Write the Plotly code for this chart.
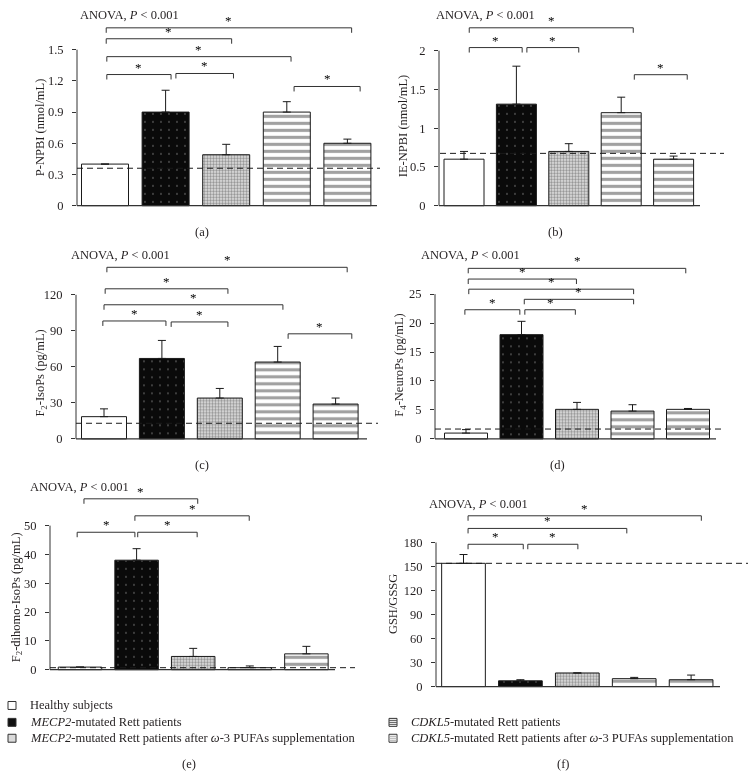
import plotly.graph_objects as go

W, H = 755, 783
FONT = "Liberation Serif"
INK = "#231f20"
LINE = "#333333"

# ---------------- data ----------------
groups = [
    "Healthy subjects",
    "<i>MECP2</i>-mutated Rett patients",
    "<i>MECP2</i>-mutated Rett patients after <i>ω</i>-3 PUFAs supplementation",
    "<i>CDKL5</i>-mutated Rett patients",
    "<i>CDKL5</i>-mutated Rett patients after <i>ω</i>-3 PUFAs supplementation",
]
positions = [0, 1, 2, 3, 4]

pnpbi_mean = [0.40, 0.90, 0.49, 0.90, 0.60]
pnpbi_err = [None, 0.21, 0.10, 0.10, 0.04]
pnpbi_ref = 0.36

ienpbi_mean = [0.60, 1.31, 0.70, 1.20, 0.60]
ienpbi_err = [0.10, 0.49, 0.10, 0.20, 0.04]
ienpbi_ref = 0.675

f2isops_mean = [18.5, 67.0, 34.0, 64.0, 29.0]
f2isops_err = [6.5, 15.0, 8.0, 13.0, 5.0]
f2isops_ref = 13.0

f4neurops_mean = [1.0, 18.0, 5.1, 4.8, 5.1]
f4neurops_err = [0.6, 2.3, 1.2, 1.1, 0.15]
f4neurops_ref = 1.7

f2dihomo_mean = [0.9, 38.0, 4.6, 0.7, 5.5]
f2dihomo_err = [None, 4.0, 2.8, 0.6, 2.6]
f2dihomo_ref = 0.7

gsh_mean = [154.0, 7.2, 17.0, 9.9, 8.6]
gsh_err = [11.0, 1.4, None, 1.6, 5.8]
gsh_ref = 154.0

# tick labels
ticks_a = [0, 0.3, 0.6, 0.9, 1.2, 1.5]
ticktext_a = ["0", "0.3", "0.6", "0.9", "1.2", "1.5"]
ticks_b = [0, 0.5, 1, 1.5, 2]
ticktext_b = ["0", "0.5", "1", "1.5", "2"]
ticks_c = [0, 30, 60, 90, 120]
ticks_d = [0, 5, 10, 15, 20, 25]
ticks_e = [0, 10, 20, 30, 40, 50]
ticks_f = [0, 30, 60, 90, 120, 150, 180]

# significance brackets: (left, right, height)
brackets_a = [(0.02, 4.07, 1.71), (0.02, 2.09, 1.605), (0.03, 3.07, 1.433),
              (0.03, 1.09, 1.261), (1.17, 2.12, 1.271), (3.12, 4.21, 1.146)]
brackets_b = [(0.10, 3.23, 2.295), (0.10, 1.11, 2.04), (1.20, 2.19, 2.04),
              (3.25, 4.26, 1.69)]
brackets_c = [(0.05, 4.20, 142.9), (0.02, 2.14, 125.0), (0.00, 3.09, 111.7),
              (-0.02, 1.07, 98.2), (1.16, 2.14, 97.4), (3.18, 4.28, 87.5)]
brackets_d = [(0.04, 3.96, 29.45), (0.04, 1.99, 27.6), (0.05, 3.02, 25.85),
              (1.05, 3.02, 24.1), (-0.02, 0.97, 22.3), (1.06, 1.97, 22.3)]
brackets_e = [(0.07, 2.08, 59.3), (0.97, 2.99, 53.4), (-0.05, 0.97, 47.7),
              (1.02, 2.07, 47.7)]
brackets_f = [(0.08, 4.18, 213.4), (0.08, 2.87, 197.6), (0.08, 1.05, 177.8),
              (1.13, 2.01, 177.8)]

anova_text = "ANOVA, <i>P</i> &lt; 0.001"

# ---------------- styles ----------------
bar_colors = ["#ffffff", "#0a0a0a", "#e4e4e4", "#ffffff", "#ffffff"]
pat_shapes = ["", ".", ".", "-", "-"]
pat_fg = ["#ffffff", "#ffffff", "#b8b8b8", "#6b6b6b", "#c2c2c2"]
pat_bg = ["#ffffff", "#0a0a0a", "#f0f0f0", "#ffffff", "#ffffff"]
pat_size = [8, 8, 3, 7, 7]
pat_sol = [0.3, 0.03, 0.5, 0.45, 0.45]

fig = go.Figure()
shapes = []
annotations = []
layout_axes = {}


def px_x(p):
    return p / W


def px_y(p):
    return 1 - p / H


def add_panel(k, mean, err, ref, tickvals, ticktext, title, brackets, g,
              anova_xy, label, label_xy, title_xy):
    xa = "x" if k == 1 else f"x{k}"
    ya = "y" if k == 1 else f"y{k}"
    xkey = "xaxis" if k == 1 else f"xaxis{k}"
    ykey = "yaxis" if k == 1 else f"yaxis{k}"
    right = max(g["xend"], g["dash1"])
    lo = (g["axis"] - g["c0"]) / g["step"]
    hi = (right - g["c0"]) / g["step"]
    tmax = tickvals[-1]
    ppu = (g["y0"] - g["ytop"]) / tmax
    ylo = -2 / ppu
    yhi = (g["y0"] - g["top"]) / ppu

    arraym = [0 if e is not None else None for e in err]
    fig.add_trace(go.Bar(
        x=positions, y=mean, width=g["bw"] / g["step"],
        xaxis=xa, yaxis=ya,
        marker=dict(color=bar_colors,
                    line=dict(color="#1a1a1a", width=1),
                    pattern=dict(shape=pat_shapes, fgcolor=pat_fg, bgcolor=pat_bg,
                                 size=pat_size, solidity=pat_sol, fillmode="overlay")),
        error_y=dict(type="data", symmetric=False, array=err, arrayminus=arraym,
                     color="#1a1a1a", thickness=1, width=4),
        showlegend=False, hoverinfo="skip",
    ))
    layout_axes[xkey] = dict(domain=[px_x(g["axis"]), px_x(right)], range=[lo, hi],
                             anchor=ya, showticklabels=False, ticks="",
                             showgrid=False, zeroline=False, showline=False,
                             fixedrange=True)
    layout_axes[ykey] = dict(domain=[px_y(g["y0"] + 2), px_y(g["top"])], range=[ylo, yhi],
                             anchor=xa, tickvals=tickvals, ticktext=ticktext,
                             ticks="outside", ticklen=4, tickwidth=1, tickcolor=LINE,
                             ticklabelstandoff=6,
                             tickfont=dict(family=FONT, size=12.5, color=INK),
                             showgrid=False, zeroline=False, showline=False,
                             fixedrange=True)
    # y axis line
    shapes.append(dict(type="line", xref="paper", yref=ya,
                       x0=px_x(g["axis"]), x1=px_x(g["axis"]), y0=0, y1=tmax,
                       line=dict(color=LINE, width=1)))
    # baseline
    shapes.append(dict(type="line", xref=xa, yref=ya, x0=lo,
                       x1=(g["xend"] - g["c0"]) / g["step"], y0=0, y1=0,
                       line=dict(color=LINE, width=1.2)))
    # reference dashed line
    shapes.append(dict(type="line", xref=xa, yref=ya,
                       x0=(g["dash0"] - g["c0"]) / g["step"], x1=hi, y0=ref, y1=ref,
                       line=dict(color="#1a1a1a", width=1, dash="6px,4px")))
    # brackets
    d = 5 / ppu
    for (xl, xr, yb) in brackets:
        shapes.append(dict(type="path", xref=xa, yref=ya,
                           path=f"M {xl},{yb - d} L {xl},{yb} L {xr},{yb} L {xr},{yb - d}",
                           line=dict(color=LINE, width=1)))
        annotations.append(dict(xref=xa, yref=ya, x=(xl + xr) / 2, y=yb,
                                text="*", showarrow=False, yanchor="bottom",
                                yshift=-2,
                                font=dict(family=FONT, size=13, color="#000000")))
    # ANOVA
    annotations.append(dict(xref="paper", yref="paper", x=px_x(anova_xy[0]),
                            y=px_y(anova_xy[1]), text=anova_text, showarrow=False,
                            xanchor="left", yanchor="middle",
                            font=dict(family=FONT, size=12.5, color=INK)))
    # panel label
    annotations.append(dict(xref="paper", yref="paper", x=px_x(label_xy[0]),
                            y=px_y(label_xy[1]), text=label, showarrow=False,
                            xanchor="center", yanchor="middle",
                            font=dict(family=FONT, size=12.5, color=INK)))
    # y title
    annotations.append(dict(xref="paper", yref="paper", x=px_x(title_xy[0]),
                            y=px_y(title_xy[1]), text=title, showarrow=False,
                            textangle=-90, xanchor="center", yanchor="middle",
                            font=dict(family=FONT, size=12.5, color=INK)))


add_panel(1, pnpbi_mean, pnpbi_err, pnpbi_ref, ticks_a, ticktext_a,
          "P-NPBI (nmol/mL)", brackets_a,
          dict(axis=77, xend=377, dash0=77, dash1=380, c0=105, step=60.6, bw=47,
               y0=207, ytop=50, top=22),
          (78, 15), "(a)", (202, 233), (40, 128))
add_panel(2, ienpbi_mean, ienpbi_err, ienpbi_ref, ticks_b, ticktext_b,
          "IE-NPBI (nmol/mL)", brackets_b,
          dict(axis=439, xend=700, dash0=440, dash1=724, c0=464, step=52.4, bw=40,
               y0=207, ytop=51, top=22),
          (434, 15), "(b)", (555, 233), (403, 127))
add_panel(3, f2isops_mean, f2isops_err, f2isops_ref, ticks_c, [str(v) for v in ticks_c],
          "F<sub>2</sub>-IsoPs (pg/mL)", brackets_c,
          dict(axis=76, xend=367, dash0=76, dash1=378, c0=104, step=57.9, bw=45,
               y0=441.7, ytop=296.7, top=263),
          (69, 257), "(c)", (202, 468), (41, 376))
add_panel(4, f4neurops_mean, f4neurops_err, f4neurops_ref, ticks_d, [str(v) for v in ticks_d],
          "F<sub>4</sub>-NeuroPs (pg/mL)", brackets_d,
          dict(axis=435, xend=716, dash0=435, dash1=724, c0=466, step=55.5, bw=43,
               y0=441.7, ytop=296, top=264),
          (419, 257), "(d)", (557, 468), (400, 368))
add_panel(5, f2dihomo_mean, f2dihomo_err, f2dihomo_ref, ticks_e, [str(v) for v in ticks_e],
          "F<sub>2</sub>-dihomo-IsoPs (pg/mL)", brackets_e,
          dict(axis=50, xend=335, dash0=50, dash1=355, c0=80, step=56.6, bw=43.5,
               y0=674, ytop=529, top=496),
          (28, 490), "(e)", (189, 769), (17, 601))
add_panel(6, gsh_mean, gsh_err, gsh_ref, ticks_f, [str(v) for v in ticks_f],
          "GSH/GSSG", brackets_f,
          dict(axis=436, xend=720, dash0=436, dash1=748, c0=463.5, step=56.9, bw=43.7,
               y0=691, ytop=546, top=513),
          (427, 507), "(f)", (563, 769), (393, 608))

# ---------------- legend ----------------
legend_pos = [(12, 710), (12, 727), (12, 743), (393, 727), (393, 743)]
icon_fill = ["#ffffff", "#111111", "#dadada", "#ffffff", "#ffffff"]
icon_stripe = [None, None, None, "#555555", "#aaaaaa"]
for i, (cx, cy) in enumerate(legend_pos):
    s = 4
    shapes.append(dict(type="rect", xref="paper", yref="paper",
                       x0=px_x(cx - s), x1=px_x(cx + s), y0=px_y(cy + s), y1=px_y(cy - s),
                       fillcolor=icon_fill[i], line=dict(color="#333333", width=1)))
    if icon_stripe[i]:
        for off in (-2, 0, 2):
            shapes.append(dict(type="line", xref="paper", yref="paper",
                               x0=px_x(cx - s), x1=px_x(cx + s),
                               y0=px_y(cy + off), y1=px_y(cy + off),
                               line=dict(color=icon_stripe[i], width=1)))
    annotations.append(dict(xref="paper", yref="paper", x=px_x(cx + 16), y=px_y(cy),
                            text=groups[i], showarrow=False, xanchor="left",
                            yanchor="middle", font=dict(family=FONT, size=12.5, color=INK)))

fig.update_layout(
    width=W, height=H, autosize=False,
    margin=dict(l=0, r=0, t=0, b=0),
    paper_bgcolor="white", plot_bgcolor="rgba(0,0,0,0)",
    showlegend=False,
    shapes=shapes, annotations=annotations,
    **layout_axes,
)

post = ("document.body.style.margin='0px';document.body.style.overflow='hidden';"
        "document.querySelectorAll('.main-svg').forEach(function(s){s.style.willChange='transform';});")
fig.write_html("out.html", config={"displayModeBar": False}, post_script=post)
